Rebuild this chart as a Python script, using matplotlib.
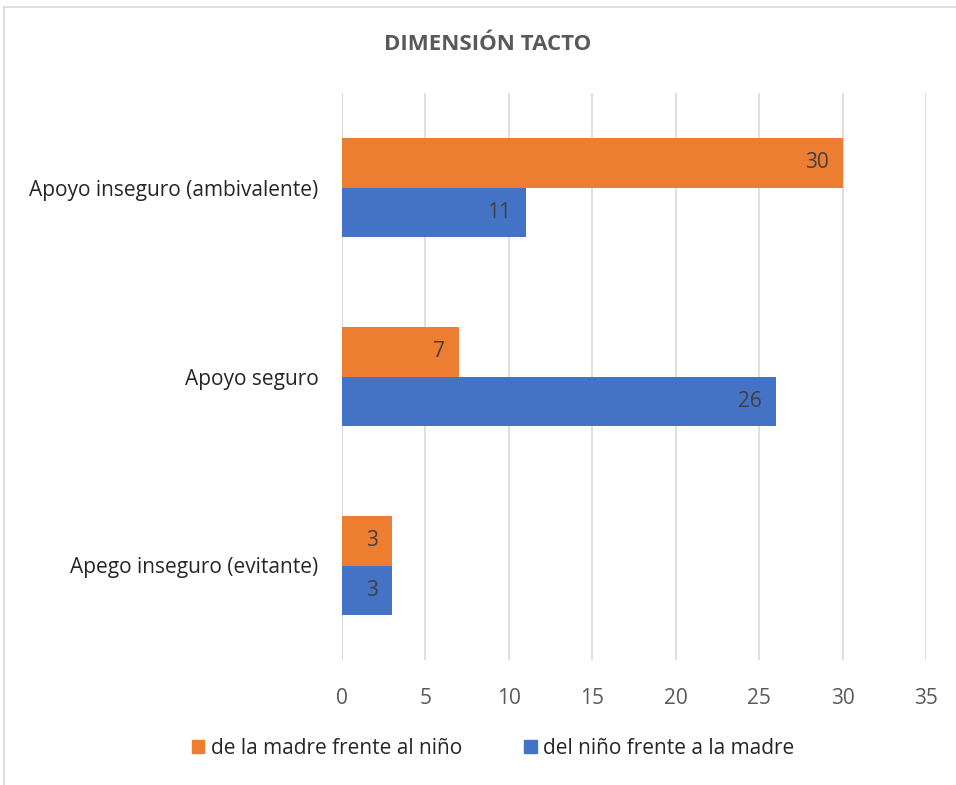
import matplotlib
matplotlib.use("Agg")
import matplotlib.pyplot as plt
import numpy as np
from matplotlib.patches import Rectangle
from matplotlib.lines import Line2D

categories = ["Apego inseguro (evitante)", "Apoyo seguro", "Apoyo inseguro (ambivalente)"]
madre = [3, 7, 30]
nino = [3, 26, 11]
series_names = ["de la madre frente al niño", "del niño frente a la madre"]
xticks = [0, 5, 10, 15, 20, 25, 30, 35]

plt.rcParams['font.family'] = ['Open Sans', 'DejaVu Sans']

fig = plt.figure(figsize=(9.56, 7.85), dpi=100)
fig.patch.set_facecolor('white')
# chart border (left and top visible)
fig.add_artist(Line2D([4/956, 4/956], [0, 1 - 7/785], transform=fig.transFigure, color='#d9d9d9', lw=1.2))
fig.add_artist(Line2D([4/956, 1], [1 - 7/785, 1 - 7/785], transform=fig.transFigure, color='#d9d9d9', lw=1.2))

ax = fig.add_axes([342/956, (785-660)/785, (926-342)/956, (660-93)/785])
y = np.arange(len(categories))
h = 0.26
orange = '#ED7D31'
blue = '#4472C4'
b1 = ax.barh(y + h/2, madre, height=h, color=orange, zorder=3)
b2 = ax.barh(y - h/2, nino, height=h, color=blue, zorder=3)

for bars, vals in ((b1, madre), (b2, nino)):
    for bar, v in zip(bars, vals):
        ax.text(v - 0.85, bar.get_y() + bar.get_height()/2, str(v), ha='right', va='center',
                fontsize=15, color='#404040', zorder=4)

ax.set_xlim(0, 35)
ax.set_ylim(-0.5, 2.5)
ax.set_xticks(xticks)
ax.set_xticklabels([str(t) for t in xticks], fontsize=15, color='#595959')
ax.set_yticks(y)
ax.set_yticklabels(categories, fontsize=15, color='#262626')
ax.tick_params(axis='both', length=0)
ax.tick_params(axis='x', pad=20)
ax.tick_params(axis='y', pad=17)
ax.grid(axis='x', color='#d9d9d9', lw=1.2, zorder=0)
ax.axvline(0, color='#d9d9d9', lw=1.2, zorder=2)
for s in ax.spines.values():
    s.set_visible(False)

fig.text(488/956, 1 - 45/785, "DIMENSIÓN TACTO", ha='center', va='center', fontsize=16,
         fontweight='bold', color='#595959')

handles = [Rectangle((0, 0), 1, 1, color=orange), Rectangle((0, 0), 1, 1, color=blue)]
fig.legend(handles, series_names, loc='center', bbox_to_anchor=(493/956, 1 - 748/785), ncol=2,
           frameon=False, fontsize=15, handlelength=0.6, handleheight=0.6, handletextpad=0.3,
           columnspacing=3.0, labelcolor='#262626')

fig.savefig("out.png", dpi=100, facecolor='white')
